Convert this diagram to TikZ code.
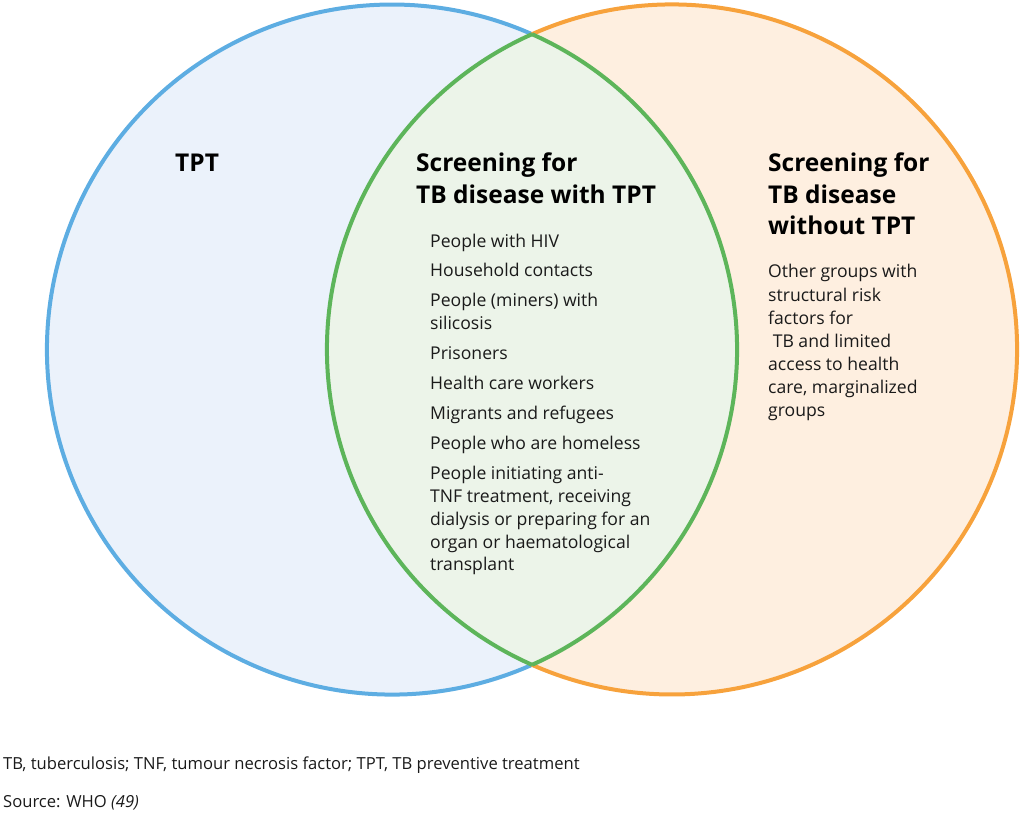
\documentclass[tikz,border=0pt]{standalone}
\usepackage{fontspec}
\setmainfont{Open Sans}
\definecolor{bfill}{HTML}{EBF2FB}
\definecolor{ofill}{HTML}{FEEFE0}
\definecolor{gfill}{HTML}{ECF4E9}
\definecolor{bline}{HTML}{5DADE2}
\definecolor{oline}{HTML}{F7A23C}
\definecolor{gline}{HTML}{5DB55A}
\definecolor{txt}{HTML}{1A1A1A}
\tikzset{
  ring/.style={line width=4pt},
  head/.style={anchor=base west, inner sep=0pt, font=\fontsize{24.5}{31}\selectfont\bfseries, text=black},
  body/.style={anchor=base west, inner sep=0pt, font=\fontsize{17.6}{23}\selectfont, text=txt},
  foot/.style={anchor=base west, inner sep=0pt, font=\fontsize{16.6}{20}\selectfont, text=txt},
}
\begin{document}
\begin{tikzpicture}[x=1pt,y=-1pt]
\useasboundingbox (0,0) rectangle (1024,814);
\pgfmathsetmacro\ang{acos(140/345)}
\coordinate (bc) at (392,349.5);
\coordinate (oc) at (672,349.5);
% fills
\fill[bfill] (bc) circle (345);
\fill[ofill] (oc) circle (345);
\begin{scope}
  \clip (bc) circle (345);
  \fill[gfill] (oc) circle (345);
\end{scope}
% outlines
\draw[ring, bline] (bc) ++(\ang:345) arc[start angle=\ang, end angle=360-\ang, radius=345];
\draw[ring, oline] (oc) ++(-180+\ang:345) arc[start angle=-180+\ang, end angle=180-\ang, radius=345];
\draw[ring, gline] (bc) ++(-\ang:345) arc[start angle=-\ang, end angle=\ang, radius=345];
\draw[ring, gline] (oc) ++(180-\ang:345) arc[start angle=180-\ang, end angle=180+\ang, radius=345];
% headings
\node[head] (h1) at (175,171) {TPT};
\node[head] (h2a) at (416,171) {Screening for};
\node[head] (h2b) at (416,203) {TB disease with TPT};
\node[head] (h3a) at (768,171) {Screening for};
\node[head] (h3b) at (768,203) {TB disease};
\node[head] (h3c) at (768,234) {without TPT};
% middle list
\foreach \i/\y/\t in {1/247/People with HIV, 2/276/Household contacts, 3/306/People (miners) with, 4/329/silicosis, 5/359/Prisoners, 6/389/Health care workers, 7/419/Migrants and refugees, 8/449/People who are homeless, 9/479/People initiating anti-, 10/502/{TNF treatment, receiving}, 11/525/dialysis or preparing for an, 12/548/organ or haematological, 13/570/transplant}
  \node[body] (m\i) at (430,\y) {\t};
% right list
\foreach \i/\y/\t in {1/277/Other groups with, 2/301/structural risk, 3/324/factors for, 4/347/{\ TB and limited}, 5/370/access to health, 6/393/{care, marginalized}, 7/416/groups}
  \node[body] (r\i) at (768,\y) {\t};
% footer
\node[foot] (f1) at (3,769) {TB, tuberculosis; TNF, tumour necrosis factor; TPT, TB preventive treatment};
\node[foot] (f2) at (3,807) {Source: WHO \textit{(49)}};
\end{tikzpicture}
\end{document}
